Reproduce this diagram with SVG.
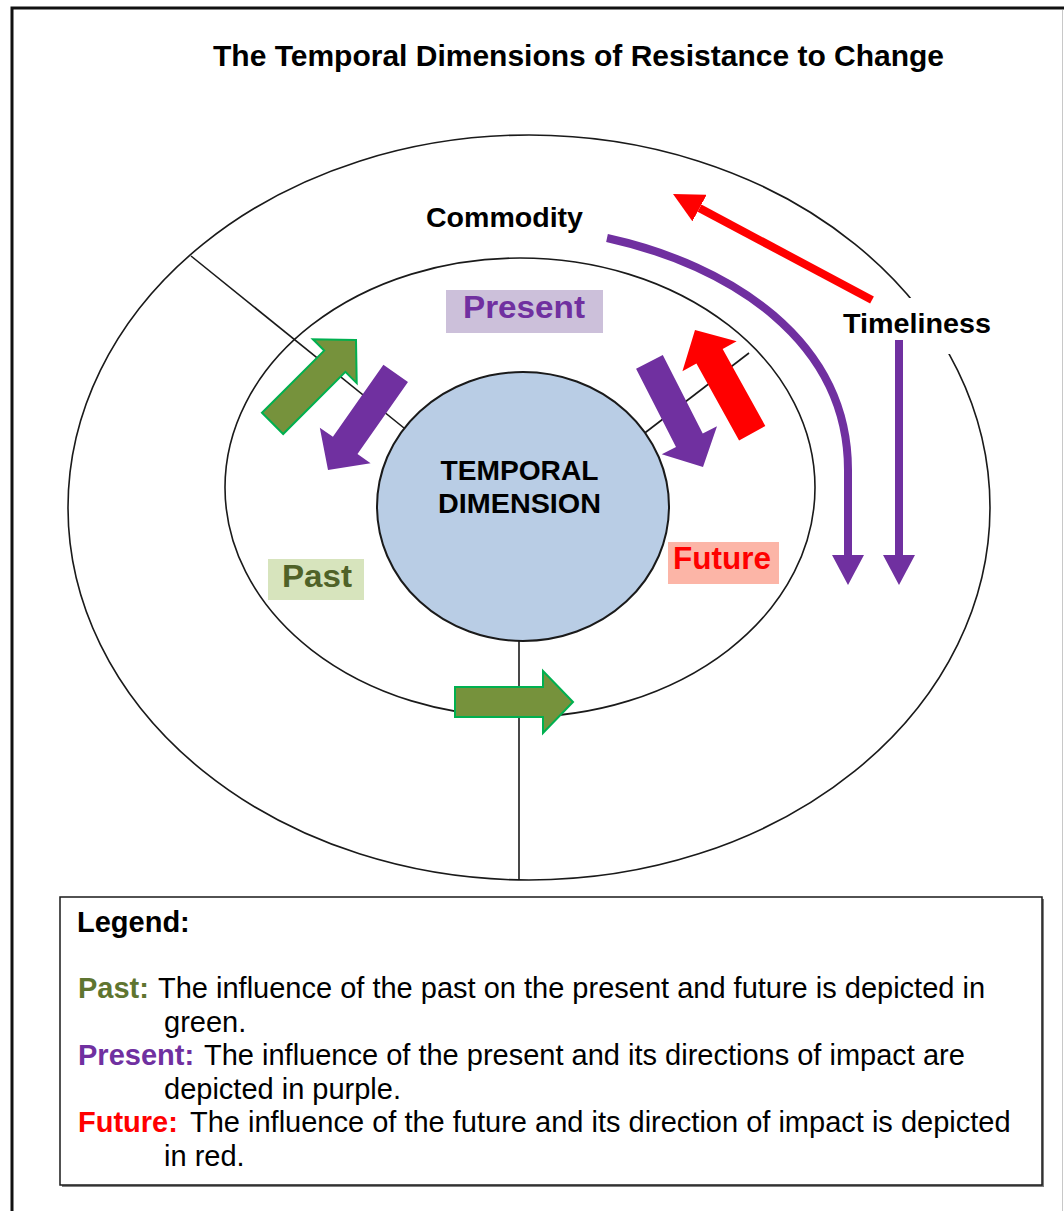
<svg xmlns="http://www.w3.org/2000/svg" width="1064" height="1211" viewBox="0 0 1064 1211">
  <style>
    .ring { fill: none; stroke: #1a1a1a; stroke-width: 1.6; }
    .spoke { fill: none; stroke: #1a1a1a; stroke-width: 1.6; }
    .lbl { font-family: "Liberation Sans", Arial, sans-serif; font-weight: bold; }
    .txt { font-family: "Liberation Sans", Arial, sans-serif; font-size: 29px; fill: #000; }
    .green { fill: #76923c; stroke: #00b050; stroke-width: 2; stroke-linejoin: miter; }
    .purple { fill: #7030a0; }
    .red { fill: #ff0000; }
    .flow-p { fill: none; stroke: #7030a0; stroke-width: 8; marker-end: url(#headP); }
    .flow-r { fill: none; stroke: #ff0000; stroke-width: 8; marker-end: url(#headR); }
  </style>
  <defs>
    <!-- block arrow, tip at origin pointing along +x -->
    <polygon id="blk" points="0,0 -30,-31 -30,-15 -118,-15 -118,15 -30,15 -30,31"/>
    <marker id="headP" markerUnits="userSpaceOnUse" viewBox="0 0 30 32" markerWidth="30" markerHeight="32" refX="0" refY="16" orient="auto">
      <path d="M0,0 L30,16 L0,32 Z" fill="#7030a0"/>
    </marker>
    <marker id="headR" markerUnits="userSpaceOnUse" viewBox="0 0 30 30" markerWidth="30" markerHeight="30" refX="0" refY="15" orient="auto">
      <path d="M0,0 L30,15 L0,30 Z" fill="#ff0000"/>
    </marker>
  </defs>

  <rect x="0" y="0" width="1064" height="1211" fill="#ffffff"/>

  <!-- page frame -->
  <g id="frame">
    <path d="M12,1211 L12,8 L1064,8" fill="none" stroke="#111" stroke-width="3"/>
    <line x1="1062.5" y1="10" x2="1062.5" y2="1211" stroke="#c8c8c8" stroke-width="1"/>
  </g>

  <g id="title">
    <text class="lbl" x="213" y="66" font-size="30" textLength="731" lengthAdjust="spacingAndGlyphs" fill="#000">The Temporal Dimensions of Resistance to Change</text>
  </g>

  <!-- rings and dividers -->
  <g id="outer-ring">
    <ellipse class="ring" cx="529" cy="507.5" rx="461" ry="372.5"/>
  </g>
  <g id="middle-ring">
    <ellipse class="ring" cx="520" cy="487.5" rx="295" ry="229.5"/>
  </g>

  <g id="connectors">
    <line class="spoke" x1="191" y1="256" x2="404" y2="428"/>
    <line class="spoke" x1="633" y1="442" x2="749" y2="353"/>
    <line class="spoke" x1="519" y1="641" x2="519" y2="880"/>
  </g>

  <g id="core">
    <ellipse cx="523" cy="506.5" rx="146" ry="134.5" fill="#b9cde5" stroke="#1a1a1a" stroke-width="2"/>
    <text class="lbl" x="519.5" y="480" font-size="28" text-anchor="middle" textLength="158" lengthAdjust="spacingAndGlyphs" fill="#000">TEMPORAL</text>
    <text class="lbl" x="519.5" y="513" font-size="28" text-anchor="middle" textLength="163" lengthAdjust="spacingAndGlyphs" fill="#000">DIMENSION</text>
  </g>

  <!-- ring labels -->
  <g id="label-present">
    <rect x="446" y="290" width="157" height="43" fill="#ccc0da"/>
    <text class="lbl" x="463" y="318" font-size="32" textLength="122" lengthAdjust="spacingAndGlyphs" fill="#7030a0">Present</text>
  </g>
  <g id="label-past">
    <rect x="268" y="559" width="96" height="41" fill="#d7e4bd"/>
    <text class="lbl" x="282" y="587" font-size="32" textLength="70" lengthAdjust="spacingAndGlyphs" fill="#4f6228">Past</text>
  </g>
  <g id="label-future">
    <rect x="668" y="542" width="111" height="42" fill="#fcb5a7"/>
    <text class="lbl" x="673" y="569" font-size="32" textLength="98" lengthAdjust="spacingAndGlyphs" fill="#ff0000">Future</text>
  </g>
  <g id="label-commodity">
    <text class="lbl" x="426" y="227" font-size="28" textLength="157" lengthAdjust="spacingAndGlyphs" fill="#000">Commodity</text>
  </g>
  <g id="label-timeliness">
    <rect x="838" y="298" width="158" height="56" fill="#ffffff"/>
    <text class="lbl" x="843" y="333" font-size="28" textLength="148" lengthAdjust="spacingAndGlyphs" fill="#000">Timeliness</text>
  </g>

  <!-- block arrows between the rings -->
  <g id="arrow-past-out"><use href="#blk" class="green" transform="translate(356,340) rotate(-45)"/></g>
  <g id="arrow-present-in"><use href="#blk" class="purple" transform="translate(328,470) rotate(125)"/></g>
  <g id="arrow-present-out"><use href="#blk" class="purple" transform="translate(703,467) rotate(63)"/></g>
  <g id="arrow-future-out"><use href="#blk" class="red" transform="translate(695,330) rotate(-119)"/></g>
  <g id="arrow-past-forward"><use href="#blk" class="green" transform="translate(573,702)"/></g>

  <!-- outer ring flows -->
  <g id="outer-flows">
    <path class="flow-p" d="M607,238 C730,265 848,340 848,470 L848,555"/>
    <path class="flow-p" d="M899,340 L899,555"/>
    <path class="flow-r" d="M872,300 L699.5,208.1"/>
  </g>

  <!-- legend -->
  <g id="legend">
    <rect x="62" y="899" width="982" height="288" fill="#7f7f7f"/>
    <rect x="60" y="897" width="982" height="288" fill="#ffffff" stroke="#1a1a1a" stroke-width="1.5"/>
    <text class="txt" x="77" y="932" font-weight="bold">Legend:</text>
    <text class="txt" x="78" y="998" font-weight="bold" fill="#5f7530" style="fill:#5f7530">Past:</text>
    <text class="txt" x="158" y="998">The influence of the past on the present and future is depicted in</text>
    <text class="txt" x="164" y="1032">green.</text>
    <text class="txt" x="78" y="1065" font-weight="bold" style="fill:#7030a0">Present:</text>
    <text class="txt" x="204" y="1065">The influence of the present and its directions of impact are</text>
    <text class="txt" x="164" y="1099">depicted in purple.</text>
    <text class="txt" x="78" y="1132" font-weight="bold" style="fill:#ff0000">Future:</text>
    <text class="txt" x="190" y="1132">The influence of the future and its direction of impact is depicted</text>
    <text class="txt" x="164" y="1166">in red.</text>
  </g>
</svg>
